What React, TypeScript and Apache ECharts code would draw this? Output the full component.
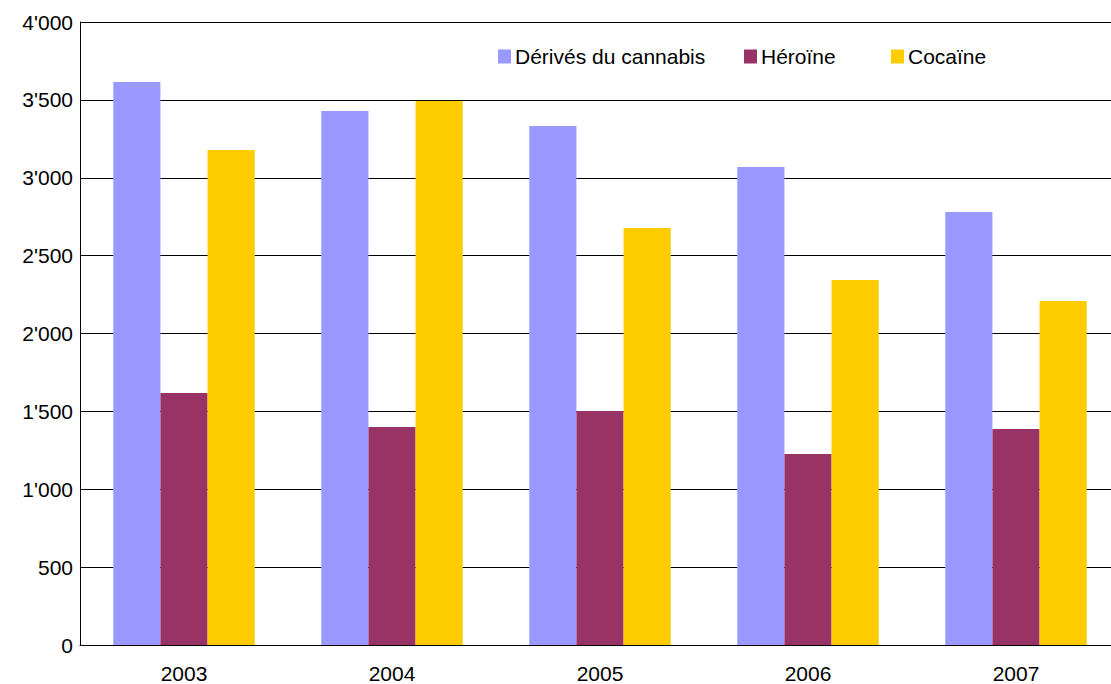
import React, { useEffect, useRef } from "react";
import * as echarts from "echarts";

const years = ["2003", "2004", "2005", "2006", "2007"];
const cannabis = [3615, 3428, 3332, 3069, 2780];
const heroine = [1618, 1400, 1502, 1226, 1387];
const cocaine = [3178, 3492, 2677, 2343, 2208];
const seriesNames = ["Dérivés du cannabis", "Héroïne", "Cocaïne"];
const colors = ["#9999FF", "#993366", "#FFCC00"];

const fmt = (v: number) => {
  const s = String(v);
  if (v >= 1000) return s.slice(0, s.length - 3) + "'" + s.slice(s.length - 3);
  return s;
};

export default function App() {
  const ref = useRef<HTMLDivElement>(null);
  useEffect(() => {
    const chart = echarts.init(ref.current!, null, { renderer: "svg" });
    const font = "Liberation Sans, Arial, sans-serif";
    const legendBase = {
      top: 46,
      icon: "rect",
      itemWidth: 13,
      itemHeight: 14,
      itemGap: 5,
      textStyle: { fontFamily: font, fontSize: 21, color: "#000", padding: [0, 0, 0, -1] },
      padding: 0,
    };
    chart.setOption({
      animation: false,
      color: colors,
      textStyle: { fontFamily: font },
      legend: [
        { ...legendBase, left: 498, data: [seriesNames[0]] },
        { ...legendBase, left: 744, data: [seriesNames[1]] },
        { ...legendBase, left: 891, data: [seriesNames[2]] },
      ],
      grid: { left: 80, top: 22, right: 0, bottom: 39, containLabel: false, outerBoundsMode: "none" },
      xAxis: {
        type: "category",
        data: years,
        axisLine: { lineStyle: { color: "#000", width: 1 } },
        axisTick: { show: false },
        axisLabel: { margin: 18, fontSize: 21, lineHeight: 20, color: "#000", fontFamily: font },
      },
      yAxis: {
        type: "value",
        min: 0,
        max: 4000,
        interval: 500,
        axisLine: { show: true, lineStyle: { color: "#000", width: 1 } },
        axisTick: { show: false },
        splitLine: { lineStyle: { color: "#000", width: 1 } },
        axisLabel: {
          margin: 7,
          fontSize: 21,
          color: "#000",
          fontFamily: font,
          formatter: (v: number) => fmt(v),
        },
      },
      series: [
        { name: seriesNames[0], type: "bar", data: cannabis, barGap: "0%", barCategoryGap: "32%" },
        { name: seriesNames[1], type: "bar", data: heroine, barGap: "0%", barCategoryGap: "32%" },
        { name: seriesNames[2], type: "bar", data: cocaine, barGap: "0%", barCategoryGap: "32%" },
      ],
    });
    return () => chart.dispose();
  }, []);
  return (
    <div
      style={{ position: "fixed", left: 0, top: 0, width: 1111, height: 684, overflow: "hidden", background: "#fff" }}
    >
      <div ref={ref} style={{ width: 1120, height: 684 }} />
    </div>
  );
}
